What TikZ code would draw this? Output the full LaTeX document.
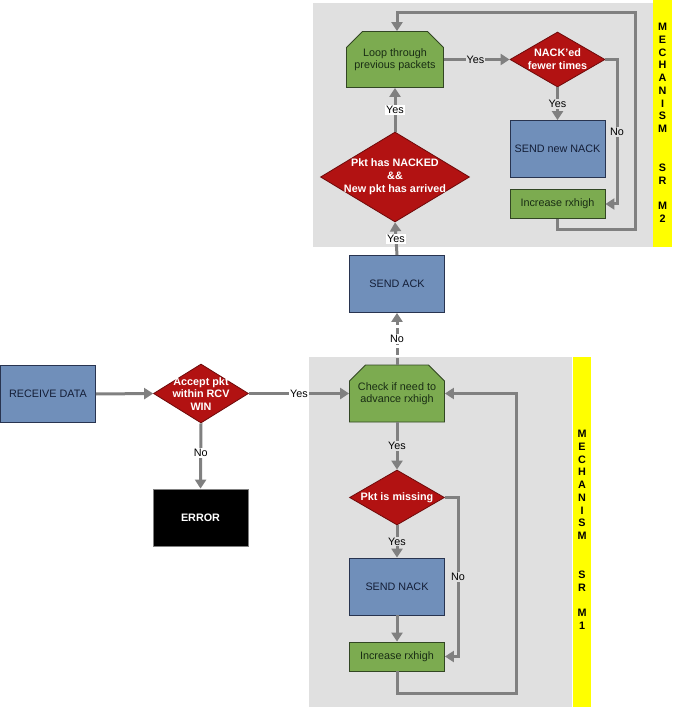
\documentclass[tikz,border=0pt]{standalone}
\usepackage{fontspec}
\setmainfont{Liberation Sans}
\usetikzlibrary{arrows.meta,shapes.geometric,shapes.misc}
\definecolor{panel}{RGB}{224,224,224}
\definecolor{mechyellow}{rgb}{1,1,0}
\definecolor{bluebox}{RGB}{112,143,186}
\definecolor{bborder}{RGB}{40,52,80}
\definecolor{btext}{RGB}{20,30,55}
\definecolor{greenbox}{RGB}{124,171,80}
\definecolor{gborder}{RGB}{50,70,35}
\definecolor{gtext}{RGB}{25,45,20}
\definecolor{redbox}{RGB}{178,18,18}
\definecolor{redborder}{RGB}{110,10,10}
\definecolor{linegray}{RGB}{128,128,128}
\tikzset{
  txt/.style={font=\fontsize{10.8}{12.5}\selectfont},
  bbox/.style={txt, draw=bborder, fill=bluebox, text=btext, line width=0.8pt, minimum width=95pt, minimum height=57pt, inner sep=0pt},
  grbox/.style={txt, draw=gborder, fill=greenbox, text=gtext, line width=0.8pt, minimum width=95pt, minimum height=29pt, inner sep=0pt},
  cbox/.style={grbox, chamfered rectangle, chamfered rectangle corners={north west,north east}, chamfered rectangle xsep=8pt, chamfered rectangle ysep=8pt, minimum height=57pt, align=center},
  errbox/.style={txt, font=\fontsize{10.8}{12.5}\selectfont\bfseries, draw=gray, fill=black, text=white, line width=0.8pt, minimum width=95pt, minimum height=57pt, inner sep=0pt},
  dia/.style={diamond, draw=redborder, fill=redbox, line width=0.8pt, inner sep=0pt},
  diat/.style={font=\fontsize{10.8}{12.8}\selectfont\bfseries, text=white, align=center},
  conn/.style={draw=linegray, line width=3pt},
  arr/.style={conn, -{Triangle[width=11pt,length=9pt]}},
  lab/.style={txt, fill=white, inner sep=1pt, text=black},
  labg/.style={lab, fill=panel},
  ytext/.style={font=\fontsize{10.8}{12.75}\selectfont\bfseries, text=black, align=center, inner sep=0pt},
  mechbar/.style={fill=mechyellow, draw=none},
}
\begin{document}
\begin{tikzpicture}[x=1pt,y=-1pt]
\useasboundingbox (0,0) rectangle (672,708);
% panels and bars
\fill[panel] (313,3) rectangle (653,247);
\path[mechbar] (653,0) rectangle (672,247);
\fill[panel] (309,357) rectangle (572,707);
\path[mechbar] (573,357) rectangle (591,707);
\node[ytext] (barA) at (662.5,123) {M\\E\\C\\H\\A\\N\\I\\S\\M\\[26pt]S\\R\\[13pt]M\\2};
\node[ytext] (barB) at (582,530) {M\\E\\C\\H\\A\\N\\I\\S\\M\\[26pt]S\\R\\[13pt]M\\1};

% nodes left
\node[bbox] (recv) at (48,394) {RECEIVE DATA};
\node[dia, minimum width=95pt, minimum height=59pt] (acc) at (201,393.5) {};
\node[diat] (acct) at (201,394) {Accept pkt\\within RCV\\WIN};
\node[errbox] (err) at (200.5,517.5) {ERROR};

% M1 nodes
\node[cbox] (chk) at (397,393.5) {Check if need to\\advance rxhigh};
\node[dia, minimum width=95pt, minimum height=55pt] (miss) at (397,497.5) {};
\node[diat] (misst) at (397,497.5) {Pkt is missing};
\node[bbox] (nack) at (397,586.5) {SEND NACK};
\node[grbox] (inc1) at (397,656.5) {Increase rxhigh};

% middle
\node[bbox] (ack) at (397,284) {SEND ACK};

% M2 nodes
\node[dia, minimum width=149pt, minimum height=90pt] (pkt) at (395,177) {};
\node[diat] (pktt) at (395,177) {Pkt has NACKED\\\&\&\\New pkt has arrived};
\node[cbox, minimum width=91pt, minimum height=56pt] (loop) at (395,59.5) {Loop through\\previous packets};
\node[dia, minimum width=95pt, minimum height=55pt] (nackd) at (557.5,59.5) {};
\node[diat] (nackdt) at (557.5,59.5) {NACK'ed\\fewer times};
\node[bbox] (snn) at (557.5,149) {SEND new NACK};
\node[grbox] (inc2) at (557.5,204) {Increase rxhigh};

% connectors
\draw[arr] (recv.east) -- (acc.west);
\draw[arr] (acc.east) -- node[lab, pos=0.5] {Yes} (chk.west);
\draw[arr] (acc.south) -- node[lab, pos=0.45] {No} (err.north);

\draw[arr] (chk.south) -- node[labg, pos=0.5] {Yes} (miss.north);
\draw[arr] (miss.south) -- node[labg, pos=0.5] {Yes} (nack.north);
\coordinate (m1a) at (458,497.5);
\coordinate (m1b) at (458,656.5);
\draw[arr] (miss.east) -- (m1a) -- node[labg, pos=0.5] {No} (m1b) -- (inc1.east);
\draw[arr] (nack.south) -- (inc1.north);
\coordinate (m1c) at (397,693);
\coordinate (m1d) at (516,693);
\coordinate (m1e) at (516,393.5);
\draw[arr] (inc1.south) -- (m1c) -- (m1d) -- (m1e) -- (chk.east);

\draw[arr, dash pattern=on 7pt off 3pt] (chk.north) -- node[lab, pos=0.5] {No} (ack.south);
\draw[arr] (ack.north) -- node[lab, pos=0.5] {Yes} (pkt.south);
\draw[arr] (pkt.north) -- node[lab, pos=0.5] {Yes} (loop.south);
\draw[arr] (loop.east) -- node[labg, pos=0.48] {Yes} (nackd.west);
\draw[arr] (nackd.south) -- node[labg, pos=0.5] {Yes} (snn.north);
\coordinate (m2a) at (617,59.5);
\coordinate (m2b) at (617,204);
\draw[arr] (nackd.east) -- (m2a) -- node[labg, pos=0.5] {No} (m2b) -- (inc2.east);
\coordinate (m2c) at (557.5,230);
\coordinate (m2d) at (635,230);
\coordinate (m2e) at (635,13);
\coordinate (m2f) at (397,13);
\draw[arr] (inc2.south) -- (m2c) -- (m2d) -- (m2e) -- (m2f) -- (m2f |- loop.north);
\end{tikzpicture}
\end{document}
